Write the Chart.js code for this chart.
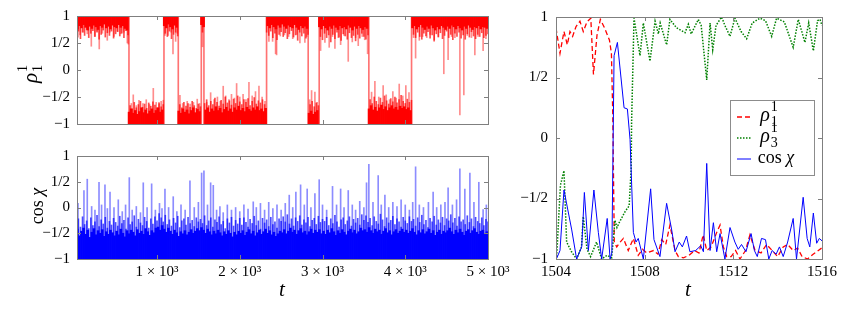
<!DOCTYPE html>
<html>
<head>
<meta charset="utf-8">
<title>rho and cos chi</title>
<script src="https://cdn.jsdelivr.net/npm/chart.js@4.4.1/dist/chart.umd.min.js"></script>
<style>
  html, body { margin: 0; padding: 0; background: #fff; }
  #wrap { position: relative; width: 855px; height: 324px; overflow: hidden; }
  #wrap canvas { position: absolute; }
</style>
</head>
<body>
<div id="wrap">
  <canvas id="rhoChart" width="530" height="140" style="left:0;top:0;width:530px;height:140px"></canvas>
  <canvas id="cosChart" width="530" height="184" style="left:0;top:140px;width:530px;height:184px"></canvas>
  <canvas id="zoomChart" width="355" height="324" style="left:500px;top:0;width:355px;height:324px"></canvas>
</div>
<script>
// === Axes ===
const tMin = 33;
const tMax = 5000;
const binWidth = 25;
const longTicks = [1000, 2000, 3000, 4000, 5000];
const zoomTicks = [1504, 1508, 1512, 1516];
const valueTicks = [-1, -0.5, 0, 0.5, 1];
const valueLabels = ["\u22121", "\u22121/2", "0", "1/2", "1"];

// === Left top: rho_1^1 over the whole run ===
// times where rho_1^1 flips between +1 and -1 (starts at +1)
const rhoSwitches = [661, 1084, 1257, 1535, 1567, 2324, 2827, 2960, 3560, 4076];
// edge of the dense band, one value per 25-wide bin (centres 12.5, 37.5, ...)
const rhoBandEdge = [
  0.80, 0.76, 0.82, 0.78, 0.84, 0.79, 0.74, 0.81, 0.77, 0.83, 0.80, 0.75, 0.82,
  0.79, 0.85, 0.78, 0.81, 0.76, 0.83, 0.80, 0.78, 0.84, 0.79, 0.82, 0.77, 0.74,
  -0.78, -0.72, -0.80, -0.75, -0.82, -0.77, -0.70, -0.79, -0.74, -0.81, -0.76, -0.72,
  -0.80, -0.75, -0.70, -0.78, -0.74,
  0.82, 0.78, 0.85, 0.80, 0.76, 0.83, 0.79,
  -0.76, -0.80, -0.72, -0.78, -0.74, -0.81, -0.75, -0.70, -0.79, -0.73, -0.77,
  0.84, 0.80,
  -0.74, -0.70, -0.78, -0.72, -0.76, -0.68, -0.75, -0.71, -0.79, -0.73,
  -0.69, -0.76, -0.72, -0.78, -0.70, -0.74, -0.67, -0.75, -0.71, -0.77,
  -0.69, -0.73, -0.76, -0.70, -0.74, -0.68, -0.75, -0.72, -0.77, -0.71,
  0.82, 0.78, 0.84, 0.80, 0.76, 0.83, 0.79, 0.85, 0.81, 0.77,
  0.83, 0.80, 0.78, 0.84, 0.79, 0.75, 0.82, 0.78, 0.81, 0.77,
  -0.80, -0.76, -0.82, -0.78, -0.75,
  0.80, 0.76, 0.82, 0.78, 0.74, 0.81, 0.77, 0.83, 0.79, 0.75,
  0.82, 0.78, 0.80, 0.76, 0.83, 0.79, 0.74, 0.81, 0.77, 0.82,
  0.78, 0.75, 0.80, 0.77,
  -0.72, -0.66, -0.74, -0.69, -0.76, -0.70, -0.65, -0.73, -0.68, -0.75,
  -0.70, -0.66, -0.72, -0.69, -0.74, -0.67, -0.71, -0.68, -0.73, -0.70, -0.75,
  0.78, 0.82, 0.76, 0.80, 0.84, 0.79, 0.75, 0.81, 0.77, 0.83,
  0.78, 0.74, 0.80, 0.76, 0.82, 0.79, 0.75, 0.81, 0.77, 0.83,
  0.80, 0.76, 0.82, 0.78, 0.74, 0.81, 0.77, 0.83, 0.79, 0.75,
  0.80, 0.78, 0.82, 0.76, 0.80, 0.79, 0.77
];
// ragged fringe below the band, one value per bin edge (25, 50, 75, ...)
const rhoFringe = [
  0.66, 0.72, 0.58, 0.70, 0.64, 0.75, 0.60, 0.68, 0.73, 0.62, 0.70, 0.57, 0.66,
  0.74, 0.61, 0.69, 0.64, 0.72, 0.59, 0.67, 0.71, 0.63, 0.68, 0.60, 0.73, 0.65,
  -0.66, -0.72, -0.60, -0.70, -0.64, -0.58, -0.69, -0.63, -0.71, -0.61,
  -0.67, -0.59, -0.65, -0.70, -0.62, -0.68, -0.64,
  0.68, 0.62, 0.72, 0.58, 0.66, 0.70, 0.63,
  -0.64, -0.70, -0.60, -0.67, -0.62, -0.69, -0.58, -0.66, -0.71, -0.63, -0.68,
  0.70,
  -0.62, -0.55, -0.66, -0.58, -0.64, -0.52, -0.60, -0.67, -0.56, -0.63,
  -0.50, -0.61, -0.57, -0.65, -0.54, -0.62, -0.48, -0.59, -0.64, -0.55,
  -0.60, -0.53, -0.66, -0.58, -0.51, -0.63, -0.57, -0.61, -0.55, -0.64,
  0.70, 0.64, 0.72, 0.60, 0.68, 0.56, 0.66, 0.71, 0.62, 0.69,
  0.58, 0.67, 0.73, 0.61, 0.65, 0.55, 0.70, 0.63, 0.68, 0.59, 0.66,
  -0.64, -0.58, -0.68, -0.61, -0.66,
  0.62, 0.56, 0.68, 0.60, 0.65, 0.52, 0.66, 0.58, 0.70, 0.61,
  0.55, 0.67, 0.63, 0.57, 0.69, 0.60, 0.64, 0.54, 0.66, 0.59,
  0.68, 0.62, 0.57, 0.65,
  -0.55, -0.62, -0.50, -0.58, -0.64, -0.52, -0.60, -0.48, -0.57, -0.63,
  -0.53, -0.59, -0.50, -0.61, -0.55, -0.47, -0.58, -0.62, -0.54, -0.60, -0.56,
  0.66, 0.60, 0.70, 0.62, 0.57, 0.68, 0.63, 0.71, 0.59, 0.65,
  0.55, 0.67, 0.61, 0.69, 0.58, 0.64, 0.72, 0.60, 0.66, 0.56,
  0.68, 0.62, 0.70, 0.59, 0.65, 0.57, 0.67, 0.61, 0.71, 0.63,
  0.58, 0.66, 0.62, 0.69, 0.60, 0.64, 0.67
];
// single excursions away from the wall
const rhoSpikeT = [
  45, 69, 110, 157, 206, 247, 275, 302, 340, 399, 430, 480, 520, 561, 600, 641, 653,
  690, 713, 750, 782, 830, 870, 910, 955, 990, 1024, 1050, 1076,
  1096, 1136, 1170, 1193, 1225, 1245,
  1277, 1310, 1365, 1400, 1440, 1486, 1515,
  1542, 1550, 1560,
  1600, 1648, 1690, 1730, 1765, 1800, 1830, 1870, 1900, 1935, 1962, 2000, 2040, 2075,
  2111, 2150, 2190, 2232, 2270, 2305,
  2352, 2397, 2433, 2445, 2490, 2540, 2590, 2640, 2690, 2727, 2787, 2810,
  2845, 2868, 2908, 2935,
  2977, 3029, 3081, 3120, 3150, 3190, 3219, 3260, 3311, 3360, 3400, 3432, 3480, 3510, 3545,
  3593, 3633, 3680, 3733, 3770, 3810, 3850, 3890, 3927, 3970, 4007, 4045,
  4100, 4125, 4170, 4210, 4260, 4300, 4349, 4400, 4466, 4518, 4560, 4600, 4660, 4708,
  4750, 4800, 4841, 4880, 4941, 4975
];
const rhoSpikeV = [
  0.61, 0.65, 0.70, 0.67, 0.44, 0.62, 0.72, 0.39, 0.68, 0.55, 0.70, 0.62, 0.72, 0.67, 0.70, 0.50, 0.48,
  -0.62, -0.46, -0.66, -0.56, -0.62, -0.55, -0.64, -0.34, -0.60, -0.60, -0.58, -0.56,
  0.64, 0.64, 0.70, 0.30, 0.53, 0.68,
  -0.47, -0.62, -0.58, -0.63, -0.60, -0.54, -0.62,
  0.85, 0.43, 0.80,
  -0.60, -0.42, -0.55, -0.50, -0.58, -0.30, -0.48, -0.55, -0.45, -0.52, -0.25, -0.50, -0.45, -0.55,
  -0.23, -0.48, -0.40, -0.30, -0.50, -0.58,
  0.53, 0.53, 0.30, 0.28, 0.63, 0.65, 0.62, 0.58, 0.66, 0.50, 0.51, 0.62,
  -0.55, -0.38, -0.41, -0.60,
  0.36, 0.51, 0.42, 0.62, 0.40, 0.60, 0.47, 0.64, 0.16, 0.52, 0.60, 0.45, 0.62, 0.56, 0.30,
  -0.41, -0.21, -0.50, -0.29, -0.46, -0.55, -0.40, -0.52, -0.26, -0.48, -0.29, -0.42,
  0.60, 0.22, 0.55, 0.62, 0.60, 0.66, 0.53, 0.62, -0.07, 0.19, 0.62, 0.60, -0.83, -0.46,
  0.64, 0.60, 0.28, 0.62, 0.36, 0.58
];

// === Left bottom: cos chi over the whole run ===
const cosBandEdge = [
  -0.50, -0.42, -0.55, -0.46, -0.40, -0.52, -0.44, -0.58, -0.48, -0.41, -0.53, -0.45, -0.50, -0.43, -0.56, -0.47, -0.52, -0.44, -0.49, -0.55,
  -0.46, -0.53, -0.42, -0.50, -0.57, -0.45, -0.51, -0.44, -0.48, -0.55, -0.43, -0.50, -0.46, -0.52, -0.41, -0.47, -0.54, -0.45, -0.49, -0.40,
  -0.38, -0.44, -0.35, -0.42, -0.48, -0.40, -0.46, -0.52, -0.44, -0.49, -0.56, -0.47, -0.51, -0.45, -0.53, -0.48, -0.43, -0.50, -0.46, -0.41,
  -0.45, -0.39, -0.44, -0.50, -0.42, -0.47, -0.53, -0.46, -0.51, -0.44, -0.49, -0.55, -0.47, -0.52, -0.45, -0.50, -0.57, -0.48, -0.53, -0.46,
  -0.50, -0.45, -0.54, -0.48, -0.43, -0.51, -0.46, -0.55, -0.49, -0.44, -0.52, -0.47, -0.42, -0.50, -0.45, -0.53, -0.48, -0.56, -0.51, -0.46,
  -0.49, -0.43, -0.51, -0.46, -0.40, -0.48, -0.44, -0.52, -0.45, -0.41, -0.49, -0.46, -0.53, -0.47, -0.42, -0.50, -0.44, -0.48, -0.43, -0.51,
  -0.46, -0.52, -0.44, -0.49, -0.41, -0.47, -0.54, -0.45, -0.50, -0.43, -0.48, -0.53, -0.46, -0.42, -0.49, -0.44, -0.51, -0.47, -0.40, -0.45,
  -0.43, -0.48, -0.39, -0.45, -0.50, -0.42, -0.47, -0.44, -0.52, -0.46, -0.41, -0.49, -0.45, -0.53, -0.47, -0.43, -0.50, -0.46, -0.42, -0.48,
  -0.44, -0.50, -0.46, -0.41, -0.48, -0.53, -0.45, -0.49, -0.43, -0.51, -0.47, -0.42, -0.50, -0.45, -0.54, -0.48, -0.44, -0.52, -0.46, -0.49,
  -0.45, -0.40, -0.47, -0.52, -0.44, -0.49, -0.42, -0.48, -0.54, -0.46, -0.43, -0.50, -0.45, -0.41, -0.48, -0.52, -0.46, -0.44, -0.50, -0.47
];
const cosFringe = [
  -0.30, -0.22, -0.38, -0.18, -0.33, -0.26, -0.41, -0.20, -0.35, -0.28, -0.15, -0.37, -0.24, -0.32, -0.19, -0.40, -0.27, -0.34, -0.21, -0.29,
  -0.36, -0.17, -0.31, -0.25, -0.42, -0.20, -0.33, -0.28, -0.16, -0.38, -0.23, -0.30, -0.35, -0.19, -0.27, -0.40, -0.22, -0.32, -0.18, -0.26,
  -0.12, -0.20, -0.28, -0.15, -0.33, -0.24, -0.36, -0.21, -0.30, -0.17, -0.39, -0.26, -0.22, -0.34, -0.19, -0.31, -0.25, -0.37, -0.20, -0.28,
  -0.23, -0.31, -0.16, -0.35, -0.26, -0.20, -0.38, -0.24, -0.29, -0.18, -0.33, -0.27, -0.41, -0.22, -0.30, -0.19, -0.36, -0.25, -0.32, -0.21,
  -0.34, -0.20, -0.29, -0.38, -0.23, -0.31, -0.17, -0.35, -0.26, -0.42, -0.21, -0.30, -0.24, -0.37, -0.19, -0.33, -0.28, -0.40, -0.22, -0.27,
  -0.18, -0.28, -0.14, -0.32, -0.22, -0.36, -0.20, -0.27, -0.16, -0.34, -0.24, -0.30, -0.19, -0.37, -0.25, -0.21, -0.33, -0.17, -0.29, -0.23,
  -0.27, -0.19, -0.35, -0.22, -0.31, -0.15, -0.28, -0.38, -0.24, -0.20, -0.33, -0.26, -0.18, -0.36, -0.23, -0.30, -0.21, -0.34, -0.14, -0.25,
  -0.16, -0.29, -0.21, -0.35, -0.18, -0.27, -0.32, -0.13, -0.24, -0.37, -0.20, -0.30, -0.25, -0.17, -0.33, -0.22, -0.28, -0.38, -0.19, -0.26,
  -0.31, -0.18, -0.27, -0.23, -0.36, -0.20, -0.29, -0.15, -0.33, -0.25, -0.39, -0.21, -0.28, -0.17, -0.34, -0.24, -0.30, -0.19, -0.35, -0.22,
  -0.26, -0.14, -0.30, -0.21, -0.36, -0.18, -0.28, -0.24, -0.33, -0.16, -0.29, -0.22, -0.37, -0.19, -0.27, -0.31, -0.20, -0.35, -0.23, -0.28
];
const cosSpikeT = [
  45, 117, 157, 210, 250, 299, 330, 371, 400, 432, 480, 532, 580, 620, 665, 700, 750, 800, 834, 880,
  935, 980, 1030, 1060, 1096, 1140, 1196, 1240, 1290, 1340, 1398, 1450, 1500, 1539, 1567, 1610, 1648, 1680, 1720, 1760,
  1800, 1850, 1900, 1950, 2000, 2050, 2100, 2163, 2200, 2250, 2300, 2350, 2400, 2450, 2500, 2550, 2598, 2640, 2678, 2735,
  2780, 2815, 2860, 2908, 2960, 3000, 3050, 3121, 3170, 3219, 3260, 3311, 3360, 3400, 3450, 3500, 3532, 3560, 3610, 3673,
  3710, 3754, 3800, 3850, 3900, 3950, 4000, 4050, 4090, 4125, 4170, 4220, 4280, 4337, 4380, 4430, 4480, 4518, 4570, 4620,
  4660, 4720, 4781, 4830, 4889, 4941, 4980
];
const cosSpikeV = [
  0.08, 0.33, 0.55, 0.02, -0.05, 0.49, 0.05, 0.44, -0.02, 0.30, 0.00, 0.15, -0.08, 0.05, 0.58, -0.05, 0.02, -0.10, 0.48, 0.00,
  0.46, -0.05, 0.08, -0.02, 0.36, 0.00, 0.21, -0.08, 0.05, -0.05, 0.52, 0.00, 0.10, 0.67, 0.71, 0.05, 0.48, 0.43, -0.05, 0.02,
  -0.10, 0.05, -0.05, 0.00, -0.08, 0.05, -0.03, 0.11, 0.00, 0.08, -0.05, 0.10, -0.02, 0.05, -0.05, 0.08, 0.24, 0.00, 0.30, 0.44,
  0.05, 0.36, 0.00, 0.27, 0.54, 0.05, -0.05, 0.41, 0.05, 0.36, 0.00, 0.33, 0.05, -0.05, 0.12, 0.00, 0.48, 0.84, 0.10, 0.62,
  0.05, 0.24, 0.00, 0.10, 0.02, 0.15, 0.05, -0.05, 0.10, 0.79, 0.05, 0.00, 0.10, 0.30, 0.00, 0.05, 0.10, 0.38, 0.05, 0.15,
  0.75, 0.36, 0.67, 0.10, 0.49, -0.04, 0.05
];

// === Right: zoom on 1504 <= t <= 1516 ===
const zoomRho1T = [
  1504.00, 1504.18, 1504.36, 1504.51, 1504.63, 1504.75, 1504.90, 1505.08, 1505.23, 1505.40,
  1505.57, 1505.69, 1505.85, 1506.00, 1506.19, 1506.41, 1506.50, 1506.56, 1506.63, 1506.74,
  1506.85, 1507.04, 1507.26, 1507.49, 1507.71, 1507.90, 1508.10, 1508.40, 1508.60, 1508.77,
  1508.95, 1509.14, 1509.37, 1509.52, 1509.75, 1510.00, 1510.25, 1510.45, 1510.64, 1510.80,
  1511.00, 1511.25, 1511.40, 1511.55, 1511.70, 1511.90, 1512.10, 1512.30, 1512.55, 1512.75,
  1512.98, 1513.25, 1513.50, 1513.75, 1514.00, 1514.25, 1514.45, 1514.70, 1514.90, 1515.10,
  1515.35, 1515.60, 1515.98
];
const zoomRho1V = [
  0.91, 0.70, 0.88, 0.77, 0.88, 0.84, 0.92, 0.965, 0.88, 0.96,
  0.99, 0.525, 0.85, 0.98, 0.91, 0.81, 0.70, 0.20, -0.86, -0.90,
  -0.87, -0.83, -0.93, -0.83, -0.97, -0.92, -0.95, -0.93, -0.96, -0.84,
  -0.88, -0.72, -0.93, -0.98, -0.99, -0.97, -0.93, -0.95, -0.80, -0.93,
  -0.90, -0.78, -0.72, -0.90, -0.98, -0.98, -0.93, -1.00, -0.93, -0.80,
  -0.93, -0.95, -0.88, -0.93, -0.98, -0.90, -0.88, -0.93, -0.91, -0.98,
  -1.00, -0.96, -0.91
];
const zoomRho3T = [
  1504.03, 1504.20, 1504.36, 1504.48, 1504.70, 1504.93, 1505.15, 1505.23, 1505.40, 1505.56,
  1505.83, 1506.06, 1506.30, 1506.51, 1506.66, 1506.75, 1506.85, 1507.11, 1507.30, 1507.39,
  1507.41, 1507.52, 1507.79, 1507.94, 1508.24, 1508.47, 1508.62, 1508.70, 1508.99, 1509.14,
  1509.44, 1509.82, 1509.97, 1510.10, 1510.42, 1510.55, 1510.80, 1510.95, 1511.07, 1511.22,
  1511.47, 1511.62, 1511.85, 1512.07, 1512.35, 1512.60, 1512.85, 1513.20, 1513.45, 1513.73,
  1513.95, 1514.30, 1514.70, 1514.93, 1515.23, 1515.40, 1515.61, 1515.80, 1515.91, 1516.00
];
const zoomRho3V = [
  -0.98, -0.39, -0.27, -0.86, -0.94, -1.00, -0.90, -0.65, -0.92, -0.98,
  -0.86, -1.00, -0.97, -0.99, -0.68, -0.74, -0.70, -0.61, -0.56, -0.26,
  0.13, 0.99, 0.68, 0.95, 0.635, 0.965, 0.86, 0.95, 0.77, 0.98,
  0.91, 0.87, 0.94, 0.86, 0.98, 0.93, 0.48, 0.95, 0.73, 0.93,
  1.00, 0.93, 0.84, 0.99, 0.88, 0.82, 0.95, 0.99, 0.97, 0.84,
  0.99, 0.96, 0.75, 0.98, 0.79, 0.95, 0.72, 0.97, 0.98, 0.93
];
const zoomCosT = [
  1504.03, 1504.18, 1504.36, 1504.71, 1504.93, 1505.16, 1505.28, 1505.46, 1505.71, 1505.91,
  1506.06, 1506.31, 1506.44, 1506.52, 1506.62, 1506.77, 1507.07, 1507.22, 1507.34, 1507.49,
  1507.61, 1507.71, 1507.94, 1508.27, 1508.42, 1508.69, 1508.99, 1509.22, 1509.37, 1509.56,
  1509.70, 1509.89, 1510.04, 1510.30, 1510.53, 1510.65, 1510.80, 1510.95, 1511.10, 1511.25,
  1511.40, 1511.62, 1511.85, 1512.07, 1512.22, 1512.37, 1512.57, 1512.80, 1512.95, 1513.08,
  1513.27, 1513.45, 1513.60, 1513.75, 1513.93, 1514.08, 1514.25, 1514.45, 1514.70, 1514.85,
  1515.15, 1515.33, 1515.45, 1515.61, 1515.76, 1515.88, 1516.00
];
const zoomCosV = [
  -0.995, -0.93, -0.43, -0.76, -1.00, -0.90, -0.45, -0.93, -0.43, -0.78,
  -1.00, -0.665, -1.00, -0.95, 0.68, 0.79, 0.25, 0.24, -0.01, -0.78,
  -0.86, -0.83, -1.00, -0.42, -0.84, -0.98, -0.54, -0.76, -0.94, -0.86,
  -0.90, -0.81, -0.94, -0.93, -0.89, -0.94, -0.21, -0.93, -0.70, -0.94,
  -0.79, -1.00, -0.74, -0.86, -0.92, -0.88, -0.94, -0.79, -0.93, -0.98,
  -0.83, -0.84, -1.00, -0.93, -0.96, -0.90, -0.98, -0.86, -0.665, -1.00,
  -0.49, -0.83, -0.90, -0.62, -0.87, -0.83, -0.85
];

// === Style ===
const SERIF = "'Liberation Serif', 'DejaVu Serif', serif";
const FRAME = "#7f7f7f";
const RED = "rgb(255, 0, 0)";
const GREEN = "rgb(0, 128, 0)";
const BLUE = "rgb(0, 0, 255)";

// === Helpers ===
function rhoState(t) {
    let s = 1;
    rhoSwitches.forEach(ts => { if (t >= ts) s = -s; });
    return s;
}

// bar from the wall of the current state out to v
function fromWall(t, v) {
    return rhoState(t) > 0 ? [v, 1] : [-1, v];
}

function toPairs(ts, vs) {
    return ts.map((t, i) => ({ x: t, y: vs[i] }));
}

function valueLabel(v) {
    const i = valueTicks.indexOf(v);
    return i >= 0 ? valueLabels[i] : "";
}

// draw a symbol with stacked sub/superscript, centred on (0, 0) of the current transform
function drawScripted(ctx, base, sub, sup, size) {
    ctx.font = `italic ${size}px ${SERIF}`;
    const wBase = ctx.measureText(base).width;
    const small = Math.round(size * 0.68);
    ctx.font = `${small}px ${SERIF}`;
    const wScript = Math.max(ctx.measureText(sub).width, ctx.measureText(sup).width);
    const total = wBase + 1 + wScript;
    let x = -total / 2;
    ctx.font = `italic ${size}px ${SERIF}`;
    ctx.fillText(base, x, size * 0.18);
    x += wBase + 1;
    ctx.font = `${small}px ${SERIF}`;
    ctx.fillText(sup, x, -size * 0.28);
    ctx.fillText(sub, x, size * 0.45);
}

function drawCosChi(ctx, size) {
    ctx.font = `${size}px ${SERIF}`;
    const wCos = ctx.measureText("cos ").width;
    ctx.font = `italic ${size}px ${SERIF}`;
    const wChi = ctx.measureText("\u03c7").width;
    let x = -(wCos + wChi) / 2;
    ctx.font = `${size}px ${SERIF}`;
    ctx.fillText("cos ", x, size * 0.3);
    ctx.font = `italic ${size}px ${SERIF}`;
    ctx.fillText("\u03c7", x + wCos, size * 0.3);
}

// === Plugins ===
const frameBox = {
    id: "frameBox",
    afterDatasetsDraw(chart, args, opts) {
        const { ctx, chartArea: a, scales } = chart;
        const len = 4;
        ctx.save();
        ctx.strokeStyle = FRAME;
        ctx.lineWidth = 1;
        ctx.beginPath();
        valueTicks.forEach(v => {
            const y = Math.round(scales.y.getPixelForValue(v)) + 0.5;
            ctx.moveTo(a.left, y); ctx.lineTo(a.left + len, y);
            ctx.moveTo(a.right, y); ctx.lineTo(a.right - len, y);
        });
        (opts.xTicks || []).forEach(v => {
            const x = Math.round(scales.x.getPixelForValue(v)) + 0.5;
            ctx.moveTo(x, a.bottom); ctx.lineTo(x, a.bottom - len);
            ctx.moveTo(x, a.top); ctx.lineTo(x, a.top + len);
        });
        ctx.stroke();
        ctx.strokeRect(Math.round(a.left) + 0.5, Math.round(a.top) + 0.5,
            Math.round(a.width), Math.round(a.height));
        ctx.restore();
    }
};

const axisTitles = {
    id: "axisTitles",
    afterDraw(chart, args, opts) {
        const ctx = chart.ctx;
        ctx.save();
        ctx.fillStyle = "#000";
        ctx.textBaseline = "alphabetic";
        if (opts.rho) {
            ctx.save();
            ctx.translate(opts.rho[0], opts.rho[1]);
            ctx.rotate(-Math.PI / 2);
            drawScripted(ctx, "\u03c1", "1", "1", 21);
            ctx.restore();
        }
        if (opts.cos) {
            ctx.save();
            ctx.translate(opts.cos[0], opts.cos[1]);
            ctx.rotate(-Math.PI / 2);
            drawCosChi(ctx, 18);
            ctx.restore();
        }
        if (opts.t) {
            ctx.font = `italic 21px ${SERIF}`;
            ctx.textAlign = "center";
            ctx.fillText("t", opts.t[0], opts.t[1]);
        }
        ctx.restore();
    }
};

const zoomLegend = {
    id: "zoomLegend",
    afterDraw(chart, args, opts) {
        if (!opts.box) return;
        const ctx = chart.ctx;
        const [x0, y0, w, h] = opts.box;
        ctx.save();
        ctx.fillStyle = "#fff";
        ctx.fillRect(x0, y0, w, h);
        ctx.strokeStyle = "#8c8c8c";
        ctx.lineWidth = 1;
        ctx.strokeRect(x0 + 0.5, y0 + 0.5, w, h);
        chart.data.datasets.forEach((ds, i) => {
            const y = y0 + 17 + i * 21;
            ctx.strokeStyle = ds.borderColor;
            ctx.lineWidth = ds.borderWidth;
            ctx.setLineDash(ds.borderDash || []);
            ctx.beginPath();
            ctx.moveTo(x0 + 7, y);
            ctx.lineTo(x0 + 21, y);
            ctx.stroke();
            ctx.setLineDash([]);
            ctx.fillStyle = "#000";
            ctx.save();
            ctx.translate(x0 + 26, y);
            if (ds.symbol) {
                ctx.translate(13, 0);
                drawScripted(ctx, "\u03c1", ds.symbol[0], ds.symbol[1], 20);
            } else {
                ctx.translate(20, -1);
                drawCosChi(ctx, 18);
            }
            ctx.restore();
        });
        ctx.restore();
    }
};

// === Shared scale pieces ===
function yScale(width, pad) {
    return {
        type: "linear",
        min: -1,
        max: 1,
        afterBuildTicks: s => { s.ticks = valueTicks.map(v => ({ value: v })); },
        afterFit: s => { s.width = width; },
        grid: { display: false, drawTicks: false },
        border: { display: false },
        ticks: {
            padding: pad,
            color: "#000",
            font: { family: SERIF, size: 15 },
            callback: v => valueLabel(v),
        },
    };
}

function xScale(min, max, ticks, height, showLabels, fmt) {
    return {
        type: "linear",
        min,
        max,
        offset: false,
        afterBuildTicks: s => { s.ticks = ticks.map(v => ({ value: v })); },
        afterFit: s => {
            s.height = height;
            s.paddingLeft = 0;
            s.paddingRight = 0;
        },
        grid: { display: false, drawTicks: false },
        border: { display: false },
        ticks: {
            display: showLabels,
            padding: 4,
            maxRotation: 0,
            autoSkip: false,
            color: "#000",
            font: { family: SERIF, size: 15 },
            callback: fmt,
        },
    };
}

const baseOptions = {
    responsive: false,
    animation: false,
    events: [],
    plugins: { legend: { display: false }, tooltip: { enabled: false } },
};

// === Left top chart ===
const rhoBand = rhoBandEdge.map((v, i) => {
    const t = binWidth * i + binWidth / 2;
    return { x: t, y: fromWall(t, v) };
});
const rhoRagged = rhoFringe.map((v, i) => {
    const t = binWidth * (i + 1);
    return { x: t, y: fromWall(t, v) };
});
const rhoSpikes = rhoSpikeT.map((t, i) => ({ x: t, y: fromWall(t, rhoSpikeV[i]) }));
const rhoJumps = rhoSwitches.map(t => ({ x: t, y: [-1, 1] }));

new Chart(document.getElementById("rhoChart"), {
    type: "bar",
    data: {
        datasets: [
            { data: rhoBand, backgroundColor: RED, barThickness: 2, grouped: false },
            { data: rhoRagged, backgroundColor: "rgba(255, 0, 0, 0.7)", barThickness: 1, grouped: false },
            { data: rhoSpikes, backgroundColor: "rgba(255, 0, 0, 0.45)", barThickness: 1, grouped: false },
            { data: rhoJumps, backgroundColor: "rgba(255, 0, 0, 0.55)", barThickness: 1, grouped: false },
        ]
    },
    options: {
        ...baseOptions,
        layout: { padding: { top: 16, right: 42, left: 0, bottom: 0 } },
        scales: {
            x: xScale(tMin, tMax, longTicks, 7, false, () => ""),
            y: yScale(77, 7),
        },
        plugins: {
            ...baseOptions.plugins,
            frameBox: { xTicks: longTicks },
            axisTitles: { rho: [33, 74] },
        },
    },
    plugins: [frameBox, axisTitles],
});

// === Left bottom chart ===
const cosBand = cosBandEdge.map((v, i) => ({ x: binWidth * i + binWidth / 2, y: [-1, v] }));
const cosRagged = cosFringe.map((v, i) => ({ x: binWidth * (i + 1), y: [-1, v] }));
const cosSpikes = cosSpikeT.map((t, i) => ({ x: t, y: [-1, cosSpikeV[i]] }));

new Chart(document.getElementById("cosChart"), {
    type: "bar",
    data: {
        datasets: [
            { data: cosBand, backgroundColor: BLUE, barThickness: 2, grouped: false },
            { data: cosRagged, backgroundColor: "rgba(0, 0, 255, 0.7)", barThickness: 1, grouped: false },
            { data: cosSpikes, backgroundColor: "rgba(0, 0, 255, 0.45)", barThickness: 1, grouped: false },
        ]
    },
    options: {
        ...baseOptions,
        layout: { padding: { top: 13, right: 42, left: 0, bottom: 0 } },
        scales: {
            x: xScale(tMin, tMax, longTicks, 65, true, v => `${v / 1000} \u00d7 10\u00b3`),
            y: yScale(77, 7),
        },
        plugins: {
            ...baseOptions.plugins,
            frameBox: { xTicks: longTicks },
            axisTitles: { cos: [38, 66], t: [282, 156] },
        },
    },
    plugins: [frameBox, axisTitles],
});

// === Right chart ===
new Chart(document.getElementById("zoomChart"), {
    type: "line",
    data: {
        datasets: [
            {
                data: toPairs(zoomRho1T, zoomRho1V), borderColor: RED, borderWidth: 1.3,
                borderDash: [5, 3], pointRadius: 0, order: 2, symbol: ["1", "1"],
            },
            {
                data: toPairs(zoomRho3T, zoomRho3V), borderColor: GREEN, borderWidth: 1.5,
                borderDash: [1.5, 1.5], pointRadius: 0, order: 1, symbol: ["3", "1"],
            },
            {
                data: toPairs(zoomCosT, zoomCosV), borderColor: BLUE, borderWidth: 1,
                pointRadius: 0, order: 0,
            },
        ]
    },
    options: {
        ...baseOptions,
        layout: { padding: { top: 16, right: 33, left: 0, bottom: 0 } },
        scales: {
            x: xScale(1504, 1516, zoomTicks, 65, true, v => String(v)),
            y: yScale(56, 8),
        },
        plugins: {
            ...baseOptions.plugins,
            frameBox: { xTicks: zoomTicks },
            axisTitles: { t: [188, 296] },
            zoomLegend: { box: [230, 100, 84, 75] },
        },
    },
    plugins: [frameBox, axisTitles, zoomLegend],
});
</script>
</body>
</html>
